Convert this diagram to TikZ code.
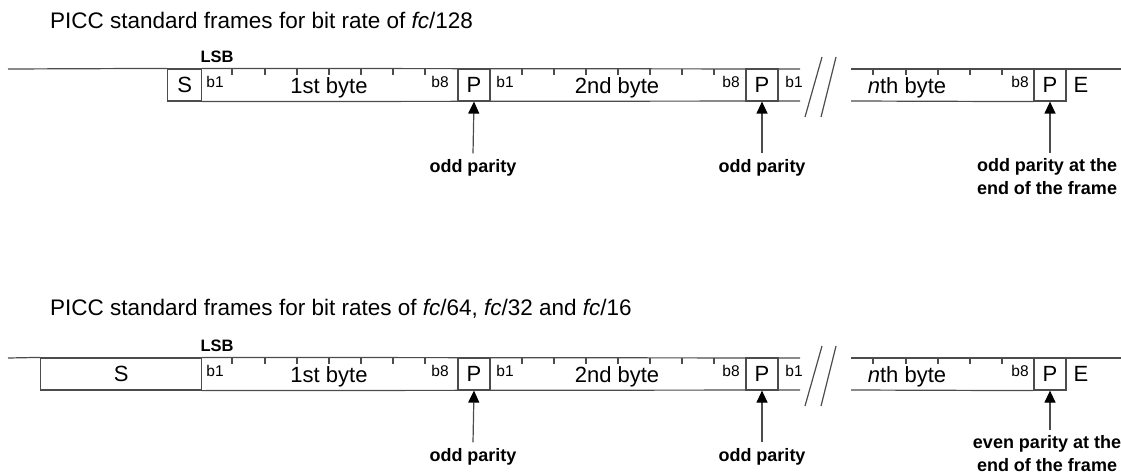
\documentclass[tikz,border=0pt]{standalone}
\usepackage{fontspec}
\setmainfont{Liberation Sans}
\usetikzlibrary{arrows.meta,positioning}
\tikzset{
  wire/.style={draw=black!70, line width=1.2pt},
  field/.style={wire, rectangle, minimum width=32pt, minimum height=32pt, inner sep=0pt, font=\fontsize{22}{26}\selectfont},
  bitlbl/.style={inner sep=0pt, font=\fontsize{15.5}{18}\selectfont},
  bytelbl/.style={inner sep=0pt, font=\fontsize{22}{26}\selectfont},
  heading/.style={anchor=west, inner sep=0pt, font=\fontsize{22.5}{26}\selectfont},
  lsb/.style={inner sep=0pt, font=\bfseries\fontsize{16.5}{20}\selectfont},
  note/.style={align=center, inner sep=0pt, font=\bfseries\fontsize{18}{23}\selectfont},
  parity/.style={-{Triangle[width=11pt,length=12pt,color=black]}, draw=black!70, line width=1.2pt}
}
% #1 left edge of S, #2 heading, #3 last note, #4 y of last note
\newcommand{\piccframe}[4]{%
  \node[heading] (head) at (50,20) {#2};
  \node[lsb] (lsb) at (217,57) {LSB};
  \node[field, anchor=west, minimum width={201-#1}] (s) at (#1,85) {S};
  \node[field] (p1) at (474,85) {P};
  \node[field] (p2) at (762,85) {P};
  \node[field] (p3) at (1050,85) {P};
  \draw[wire] (8,69) -- (s.north west);
  \draw[wire] (s.north east) -- (800,69);
  \draw[wire] (s.south east) -- (800,101);
  \draw[wire] (851,69) -- (1121,69);
  \draw[wire] (851,101) -- (p3.south west);
  \foreach \x in {232,265,297,329,361,393,425,522,554,586,618,650,682,714,873,906,938,970,1002}
    \draw[wire] (\x,69) -- ++(0,6);
  \draw[wire] (822,57) -- (805,117);
  \draw[wire] (836,57) -- (821,117);
  \node[bitlbl] (b1a) at (215,82) {b1};
  \node[bitlbl] (b8a) at (440,82) {b8};
  \node[bitlbl] (b1b) at (505,82) {b1};
  \node[bitlbl] (b8b) at (731,82) {b8};
  \node[bitlbl] (b1c) at (794,82) {b1};
  \node[bitlbl] (b8c) at (1020,82) {b8};
  \node[bytelbl] (byte1) at (329,88) {1st byte};
  \node[bytelbl] (byte2) at (617,88) {2nd byte};
  \node[bytelbl] (byten) at (907,88) {\textit{n}th byte};
  \node[bytelbl] (e) at (1081,85) {E};
  \node[note] (n1) at (473,168) {odd parity};
  \node[note] (n2) at (762,168) {odd parity};
  \node[note] (n3) at (1047,#4) {#3};
  \draw[parity] ([yshift=6pt]n1.north) -- (p1.south);
  \draw[parity] ([yshift=6pt]n2.north) -- (p2.south);
  \draw[parity] ([yshift=6pt]n3.north -| p3.south) -- (p3.south);
}

\begin{document}
\begin{tikzpicture}[x=1pt, y=-1pt]
  \useasboundingbox (0,0) rectangle (1121,476);
  \piccframe{167}{PICC standard frames for bit rate of \textit{fc}/128}{odd parity at the\\end of the frame}{177}
  \begin{scope}[yshift=-289pt]
    \piccframe{40}{PICC standard frames for bit rates of \textit{fc}/64, \textit{fc}/32 and \textit{fc}/16}{even parity at the\\end of the frame}{165}
  \end{scope}
\end{tikzpicture}
\end{document}
